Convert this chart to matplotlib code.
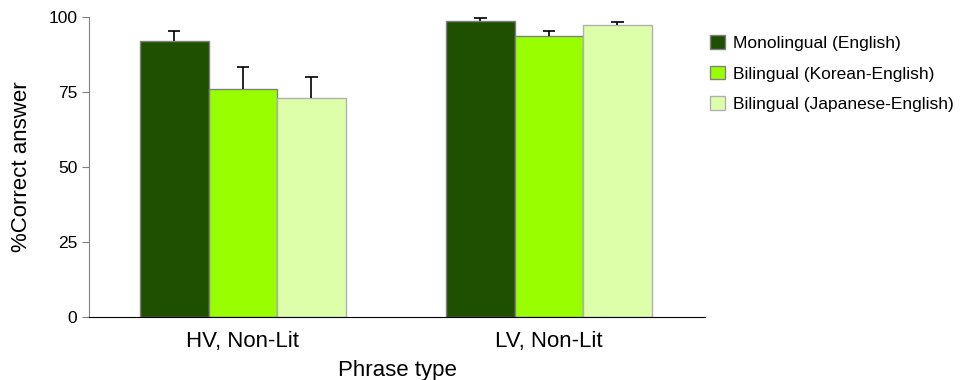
import matplotlib.pyplot as plt
import numpy as np

plt.rcParams['font.family'] = ['Liberation Sans', 'DejaVu Sans']

categories = ['HV, Non-Lit', 'LV, Non-Lit']
groups = ['Monolingual (English)', 'Bilingual (Korean-English)', 'Bilingual (Japanese-English)']
means = [[92.0, 98.8],
         [76.0, 93.8],
         [73.0, 97.5]]
errors = [[3.3, 0.9],
          [7.5, 1.5],
          [7.0, 0.8]]
colors = ['#1f5000', '#99ff00', '#ddffaa']
edges = ['#808080', '#808080', '#b0b0b0']

fig = plt.figure(figsize=(9.61, 3.8), dpi=100)
ax = fig.add_axes([89 / 961, 63 / 380, 616 / 961, 300 / 380])

x = np.arange(len(categories))
w = 0.224
cap = 0.02
for i in range(len(groups)):
    pos = x + (i - 1) * w
    m = np.array(means[i])
    top = m + np.array(errors[i])
    ax.bar(pos, m, w, color=colors[i], edgecolor=edges[i], linewidth=1,
           label=groups[i], zorder=2)
    ax.vlines(pos, m, top, color='black', linewidth=1.2, zorder=3)
    ax.hlines(top, pos - cap, pos + cap, color='black', linewidth=1.2, zorder=3)

ax.set_xlim(-0.503, 1.51)
ax.set_ylim(0, 100)
ax.set_yticks([0, 25, 50, 75, 100])
ax.set_xticks(x)
ax.set_xticklabels(categories, fontsize=16)
ax.tick_params(axis='x', length=0, pad=10)
ax.tick_params(axis='y', labelsize=12.5, length=5, color='#808080')
ax.spines['top'].set_visible(False)
ax.spines['right'].set_visible(False)
ax.spines['left'].set_color('#808080')
ax.spines['bottom'].set_color('black')
ax.set_xlabel('Phrase type', fontsize=16, labelpad=6)
ax.set_ylabel('%Correct answer', fontsize=16, labelpad=12)

fig.legend(loc='upper left', bbox_to_anchor=(703 / 961, 1 - 28 / 380), frameon=False,
           fontsize=12.5, handlelength=0.85, handleheight=0.85, handletextpad=0.45,
           labelspacing=0.85, borderaxespad=0)

fig.savefig('out.png', dpi=100)
